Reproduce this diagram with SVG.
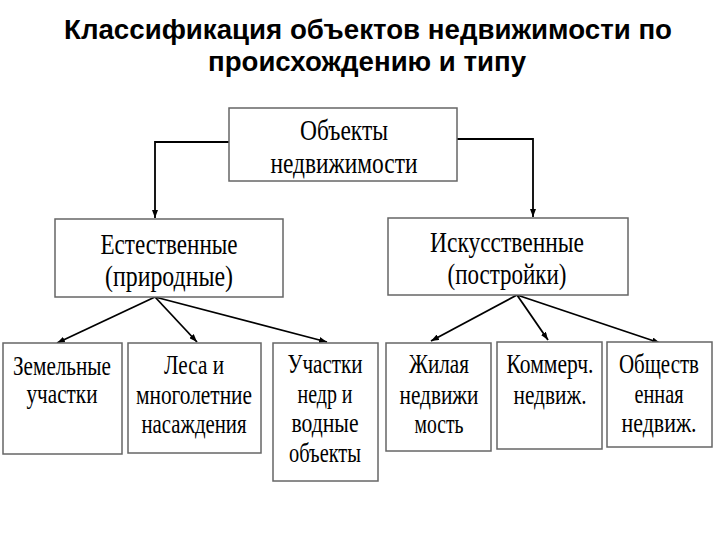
<svg xmlns="http://www.w3.org/2000/svg" width="720" height="540" viewBox="0 0 720 540">
<defs>
<style>
.title{font-family:"Liberation Sans",Arial,sans-serif;font-weight:bold;font-size:27px;fill:#000}
.box{fill:#fff;stroke:#666;stroke-width:1.5}
.t1{font-family:"Liberation Serif","Times New Roman",serif;font-size:30px;fill:#000;text-anchor:middle}
.t2{font-family:"Liberation Serif","Times New Roman",serif;font-size:27px;fill:#000;text-anchor:middle}
.con{fill:none;stroke:#000;stroke-width:1.8}
</style>
<marker id="ah" viewBox="0 0 8 6" refX="8" refY="3" markerWidth="8" markerHeight="6" markerUnits="userSpaceOnUse" orient="auto">
<path d="M0,0 L8,3 L0,6 z" fill="#000"/>
</marker>
</defs>
<rect width="720" height="540" fill="#fff"/>
<g id="title">
<text class="title" x="64" y="39" textLength="608" lengthAdjust="spacingAndGlyphs">Классификация объектов недвижимости по</text>
<text class="title" x="208" y="71" textLength="318" lengthAdjust="spacingAndGlyphs">происхождению и типу</text>
</g>
<g id="connectors">
<polyline class="con" points="229,142 155,142 155,218" stroke-width="1.5" marker-end="url(#ah)"/>
<polyline class="con" points="457,139 533,139 533,217" stroke-width="1.5" marker-end="url(#ah)"/>
<line class="con" x1="155" y1="297" x2="57" y2="343" marker-end="url(#ah)"/>
<line class="con" x1="155" y1="297" x2="197" y2="342" marker-end="url(#ah)"/>
<line class="con" x1="155" y1="297" x2="327" y2="342" marker-end="url(#ah)"/>
<line class="con" x1="517" y1="295" x2="431" y2="341" marker-end="url(#ah)"/>
<line class="con" x1="517" y1="295" x2="548" y2="340" marker-end="url(#ah)"/>
<line class="con" x1="517" y1="295" x2="660" y2="343" marker-end="url(#ah)"/>
</g>
<g id="root">
<rect class="box" x="229" y="108" width="228" height="73"/>
<text class="t1" x="344" y="140" textLength="88" lengthAdjust="spacingAndGlyphs">Объекты</text>
<text class="t1" x="344" y="173" textLength="147" lengthAdjust="spacingAndGlyphs">недвижимости</text>
</g>
<g id="natural">
<rect class="box" x="55" y="219" width="228" height="78"/>
<text class="t1" x="169" y="254" textLength="137" lengthAdjust="spacingAndGlyphs">Естественные</text>
<text class="t1" x="169" y="286" textLength="128" lengthAdjust="spacingAndGlyphs">(природные)</text>
</g>
<g id="artificial">
<rect class="box" x="388" y="218" width="240" height="77"/>
<text class="t1" x="507" y="252" textLength="154" lengthAdjust="spacingAndGlyphs">Искусственные</text>
<text class="t1" x="507" y="284" textLength="119" lengthAdjust="spacingAndGlyphs">(постройки)</text>
</g>
<g id="land">
<rect class="box" x="3" y="343" width="119" height="111"/>
<text class="t2" x="62" y="375" textLength="98" lengthAdjust="spacingAndGlyphs">Земельные</text>
<text class="t2" x="62" y="403" textLength="71" lengthAdjust="spacingAndGlyphs">участки</text>
</g>
<g id="forest">
<rect class="box" x="128" y="343" width="133" height="110"/>
<text class="t2" x="194" y="374" textLength="60" lengthAdjust="spacingAndGlyphs">Леса и</text>
<text class="t2" x="194" y="404" textLength="116" lengthAdjust="spacingAndGlyphs">многолетние</text>
<text class="t2" x="194" y="433" textLength="105" lengthAdjust="spacingAndGlyphs">насаждения</text>
</g>
<g id="subsoil">
<rect class="box" x="273" y="343" width="105" height="138"/>
<text class="t2" x="325" y="373" textLength="75" lengthAdjust="spacingAndGlyphs">Участки</text>
<text class="t2" x="325" y="403" textLength="55" lengthAdjust="spacingAndGlyphs">недр и</text>
<text class="t2" x="325" y="432" textLength="67" lengthAdjust="spacingAndGlyphs">водные</text>
<text class="t2" x="325" y="462" textLength="72" lengthAdjust="spacingAndGlyphs">объекты</text>
</g>
<g id="residential">
<rect class="box" x="386" y="343" width="105" height="108"/>
<text class="t2" x="439" y="373" textLength="60" lengthAdjust="spacingAndGlyphs">Жилая</text>
<text class="t2" x="439" y="404" textLength="79" lengthAdjust="spacingAndGlyphs">недвижи</text>
<text class="t2" x="439" y="433" textLength="49" lengthAdjust="spacingAndGlyphs">мость</text>
</g>
<g id="commercial">
<rect class="box" x="497" y="342" width="105" height="107"/>
<text class="t2" x="550" y="373" textLength="87" lengthAdjust="spacingAndGlyphs">Коммерч.</text>
<text class="t2" x="550" y="404" textLength="73" lengthAdjust="spacingAndGlyphs">недвиж.</text>
</g>
<g id="public">
<rect class="box" x="607" y="342" width="105" height="105"/>
<text class="t2" x="659" y="373" textLength="80" lengthAdjust="spacingAndGlyphs">Обществ</text>
<text class="t2" x="659" y="403" textLength="49" lengthAdjust="spacingAndGlyphs">енная</text>
<text class="t2" x="659" y="432" textLength="75" lengthAdjust="spacingAndGlyphs">недвиж.</text>
</g>
</svg>
